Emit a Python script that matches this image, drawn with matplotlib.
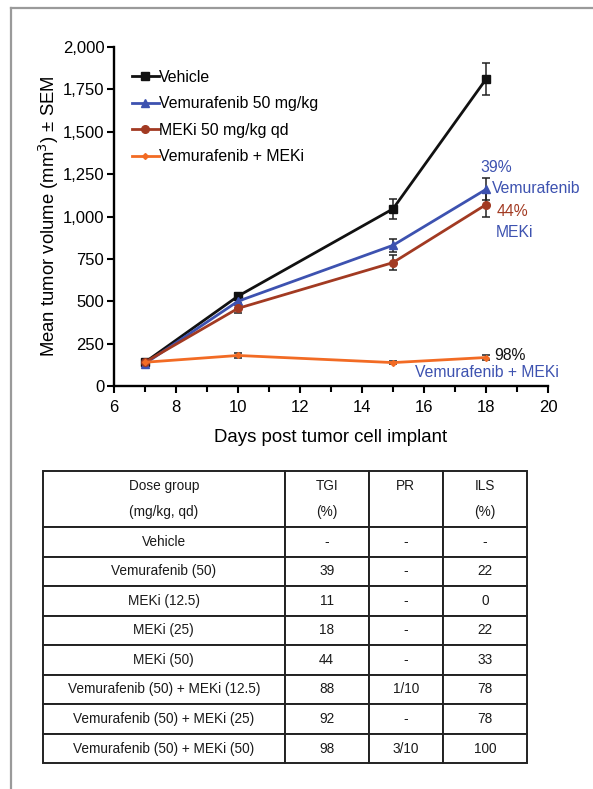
import numpy as np
import matplotlib.pyplot as plt
from matplotlib.ticker import FuncFormatter, MultipleLocator
from matplotlib.lines import Line2D

plt.rcParams['font.family'] = ['Liberation Sans', 'DejaVu Sans']

# Tumor growth data
days = [7, 10, 15, 18]
vehicle = [140, 530, 1045, 1810]
vehicle_sem = [10, 20, 60, 95]
vemu = [132, 500, 830, 1160]
vemu_sem = [10, 25, 40, 65]
meki = [140, 458, 728, 1070]
meki_sem = [10, 30, 45, 70]
combo = [140, 180, 138, 168]
combo_sem = [8, 12, 8, 12]

series_labels = ['Vehicle', 'Vemurafenib 50 mg/kg', 'MEKi 50 mg/kg qd', 'Vemurafenib + MEKi']

# Table data
col_labels = ['Dose group\n(mg/kg, qd)', 'TGI\n(%)', 'PR\n', 'ILS\n(%)']
dose_groups = ['Vehicle', 'Vemurafenib (50)', 'MEKi (12.5)', 'MEKi (25)', 'MEKi (50)',
               'Vemurafenib (50) + MEKi (12.5)', 'Vemurafenib (50) + MEKi (25)',
               'Vemurafenib (50) + MEKi (50)']
tgi = ['-', '39', '11', '18', '44', '88', '92', '98']
pr = ['-', '-', '-', '-', '-', '1/10', '-', '3/10']
ils = ['-', '22', '0', '22', '33', '78', '78', '100']

black = '#111111'
blue = '#3d52b0'
brown = '#a23a22'
orange = '#f26b24'

fig = plt.figure(figsize=(5.93, 7.89), dpi=100)

# grey frame (left and top edges visible)
fig.add_artist(Line2D([0.0185, 0.0185], [-0.01, 0.9899], transform=fig.transFigure,
                      color='#9a9a9a', lw=1.6))
fig.add_artist(Line2D([0.0185, 1.01], [0.9899, 0.9899], transform=fig.transFigure,
                      color='#9a9a9a', lw=1.6))

ax = fig.add_axes([0.1922, 0.5108, 0.7319, 0.4296])

styles = [
    (vehicle, vehicle_sem, black, 's', 5.5),
    (vemu, vemu_sem, blue, '^', 6),
    (meki, meki_sem, brown, 'o', 5.5),
    (combo, combo_sem, orange, 'D', 3),
]
handles = []
for (vals, sem, col, mk, ms), lab in zip(styles, series_labels):
    ax.errorbar(days, vals, yerr=sem, color=col, marker=mk, ms=ms, lw=2.0,
                ecolor='#222222', elinewidth=1.1, capsize=3.2, capthick=1.1)
    handles.append(Line2D([], [], color=col, marker=mk, ms=ms, lw=2.0, label=lab))

ax.set_xlim(6, 20)
ax.set_ylim(0, 2000)
ax.xaxis.set_major_locator(MultipleLocator(2))
ax.xaxis.set_minor_locator(MultipleLocator(1))
ax.yaxis.set_major_locator(MultipleLocator(250))
ax.yaxis.set_major_formatter(FuncFormatter(lambda v, p: f'{v:,.0f}'))
for s in ['top', 'right']:
    ax.spines[s].set_visible(False)
for s in ['left', 'bottom']:
    ax.spines[s].set_linewidth(1.7)
ax.tick_params(which='both', direction='out', width=1.5, labelsize=12, pad=2)
ax.tick_params(axis='x', which='both', pad=5)
ax.tick_params(which='major', length=5)
ax.tick_params(which='minor', length=4)
ax.set_xlabel('Days post tumor cell implant', fontsize=13.4, labelpad=10)
ax.set_ylabel('Mean tumor volume (mm$^3$) ± SEM', fontsize=13.3, labelpad=1)

leg = ax.legend(handles=handles, loc='upper left', bbox_to_anchor=(0.026, 0.951),
                frameon=False, fontsize=11.4, handlelength=1.7, handletextpad=0.0,
                labelspacing=0.72, borderaxespad=0.0)

# annotations near the end points
fs = 11.3
ax.text(18.34, 1292, '39%', color=blue, fontsize=fs, ha='center', va='center')
ax.text(18.19, 1168, 'Vemurafenib', color=blue, fontsize=fs, ha='left', va='center')
ax.text(18.33, 1032, '44%', color=brown, fontsize=fs, ha='left', va='center')
ax.text(18.32, 903, 'MEKi', color=blue, fontsize=fs, ha='left', va='center')
ax.text(18.26, 177, '98%', color=black, fontsize=fs, ha='left', va='center')
ax.text(18.03, 77, 'Vemurafenib + MEKi', color=blue, fontsize=fs, ha='center', va='center')

# table
tax = fig.add_axes([0.0725, 0.0326, 0.8165, 0.3705])
tax.axis('off')
rows = [[g, a, b, c] for g, a, b, c in zip(dose_groups, tgi, pr, ils)]
col_w = [241.6, 84, 74, 84.4]
col_w = [w / sum(col_w) for w in col_w]
tbl = tax.table(cellText=rows, colLabels=col_labels, colWidths=col_w,
                cellLoc='center', bbox=[0, 0, 1, 1])
tbl.auto_set_font_size(False)
for (r, c), cell in tbl.get_celld().items():
    cell.set_linewidth(1.4)
    cell.set_edgecolor('#222222')
    cell.get_text().set_fontsize(9.8)
    cell.get_text().set_color('#1a1a1a')
    if r == 0:
        cell.set_height(cell.get_height() * 1.9)
        cell.get_text().set_linespacing(2.1)

fig.savefig('out.png', dpi=100)
